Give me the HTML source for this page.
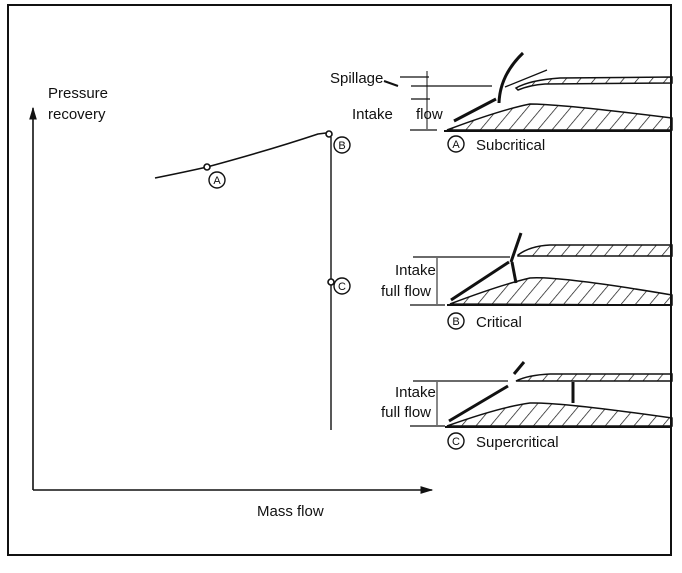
<!DOCTYPE html>
<html><head><meta charset="utf-8"><style>
body{margin:0;background:#fff}
svg text{font-family:"Liberation Sans",sans-serif;fill:#111}
</style></head><body>
<svg width="682" height="568" viewBox="0 0 682 568" xmlns="http://www.w3.org/2000/svg">
<defs>
<pattern id="h" width="11" height="11" patternUnits="userSpaceOnUse" patternTransform="rotate(40)">
<line x1="0" y1="0" x2="0" y2="11" stroke="#111" stroke-width="1.4"/>
</pattern>
<marker id="ar" viewBox="0 0 10 10" refX="9" refY="5" markerWidth="8" markerHeight="8" orient="auto"><path d="M0,2 L10,5 L0,8z" fill="#111"/></marker>
</defs>
<rect x="8" y="5" width="663" height="550" fill="none" stroke="#111" stroke-width="2"/>
<line x1="33" y1="490" x2="33" y2="108" stroke="#111" stroke-width="1.6" marker-end="url(#ar)"/>
<line x1="33" y1="490" x2="432" y2="490" stroke="#111" stroke-width="1.6" marker-end="url(#ar)"/>
<text x="48" y="98" font-size="15">Pressure</text>
<text x="48" y="119" font-size="15">recovery</text>
<text x="257" y="516" font-size="15">Mass flow</text>
<path d="M155,178 Q185,172 207,167 Q270,150 318,134 L326,133" fill="none" stroke="#111" stroke-width="1.6"/>
<line x1="331" y1="137" x2="331" y2="430" stroke="#111" stroke-width="1.4"/>
<circle cx="207" cy="167" r="3" fill="#fff" stroke="#111" stroke-width="1.6"/>
<circle cx="329" cy="134" r="3" fill="#fff" stroke="#111" stroke-width="1.6"/>
<circle cx="331" cy="282" r="3" fill="#fff" stroke="#111" stroke-width="1.6"/>
<g fill="none" stroke="#111" stroke-width="1.4">
<circle cx="217" cy="180" r="8"/><circle cx="342" cy="145" r="8"/><circle cx="342" cy="286" r="8"/>
<circle cx="456" cy="144" r="8"/><circle cx="456" cy="321" r="8"/><circle cx="456" cy="441" r="8"/>
</g>
<g font-size="11" text-anchor="middle"><text x="217" y="184">A</text><text x="342" y="149">B</text><text x="342" y="290">C</text>
<text x="456" y="148">A</text><text x="456" y="325">B</text><text x="456" y="445">C</text></g>
<g font-size="15"><text x="476" y="150">Subcritical</text><text x="476" y="327">Critical</text><text x="476" y="447">Supercritical</text>
<text x="330" y="83">Spillage</text><text x="352" y="119">Intake</text><text x="416" y="119">flow</text>
<text x="395" y="275">Intake</text><text x="381" y="296">full flow</text>
<text x="395" y="397">Intake</text><text x="381" y="417">full flow</text></g>
<g stroke="#111" fill="none">
<path d="M400,77 L429,77 M411,86 L492,86 M411,99 L430,99 M410,130 L437,130" stroke-width="1.3"/>
<line x1="427" y1="71" x2="427" y2="129" stroke-width="1"/>
<path d="M384,81 L398,86" stroke-width="2"/>
<path d="M454,121 L496,99" stroke-width="3"/>
<path d="M499,103 Q500,75 523,53" stroke-width="3"/>
<path d="M505,87 L547,70" stroke-width="1.3"/>
<path d="M516,88 Q530,80 560,78 L672,77 L672,83 L545,84 Q530,85 518,90z" fill="url(#h)" stroke-width="1.5"/>
<path d="M447,130 Q500,110 530,104 Q560,104 672,118 L672,130 Z" fill="url(#h)" stroke-width="1.5"/>
<path d="M444,131 L672,131" stroke-width="2"/>
<path d="M413,257 L510,257 M410,305 L445,305" stroke-width="1.3"/>
<line x1="437" y1="258" x2="437" y2="304" stroke-width="1"/>
<path d="M451,300 L509,262" stroke-width="3"/>
<path d="M511,262 L521,233 M512,262 L516,283" stroke-width="3"/>
<path d="M518,255 Q530,246 550,245 L672,245 L672,256 L518,256z" fill="url(#h)" stroke-width="1.5"/>
<path d="M450,304 Q500,285 530,278 Q560,276 672,295 L672,305 Z" fill="url(#h)" stroke-width="1.5"/>
<path d="M447,305 L672,305" stroke-width="2"/>
<path d="M413,381 L508,381 M410,426 L445,426" stroke-width="1.3"/>
<line x1="437" y1="382" x2="437" y2="425" stroke-width="1"/>
<path d="M449,421 L508,386" stroke-width="3"/>
<path d="M514,374 L524,362" stroke-width="3"/>
<path d="M573,382 L573,403" stroke-width="3"/>
<path d="M516,381 Q528,375 550,374 L672,374 L672,381 L516,381z" fill="url(#h)" stroke-width="1.5"/>
<path d="M447,426 Q500,407 530,403 Q560,402 672,418 L672,426 Z" fill="url(#h)" stroke-width="1.5"/>
<path d="M445,427 L672,427" stroke-width="2"/>
</g>
</svg>
</body></html>
